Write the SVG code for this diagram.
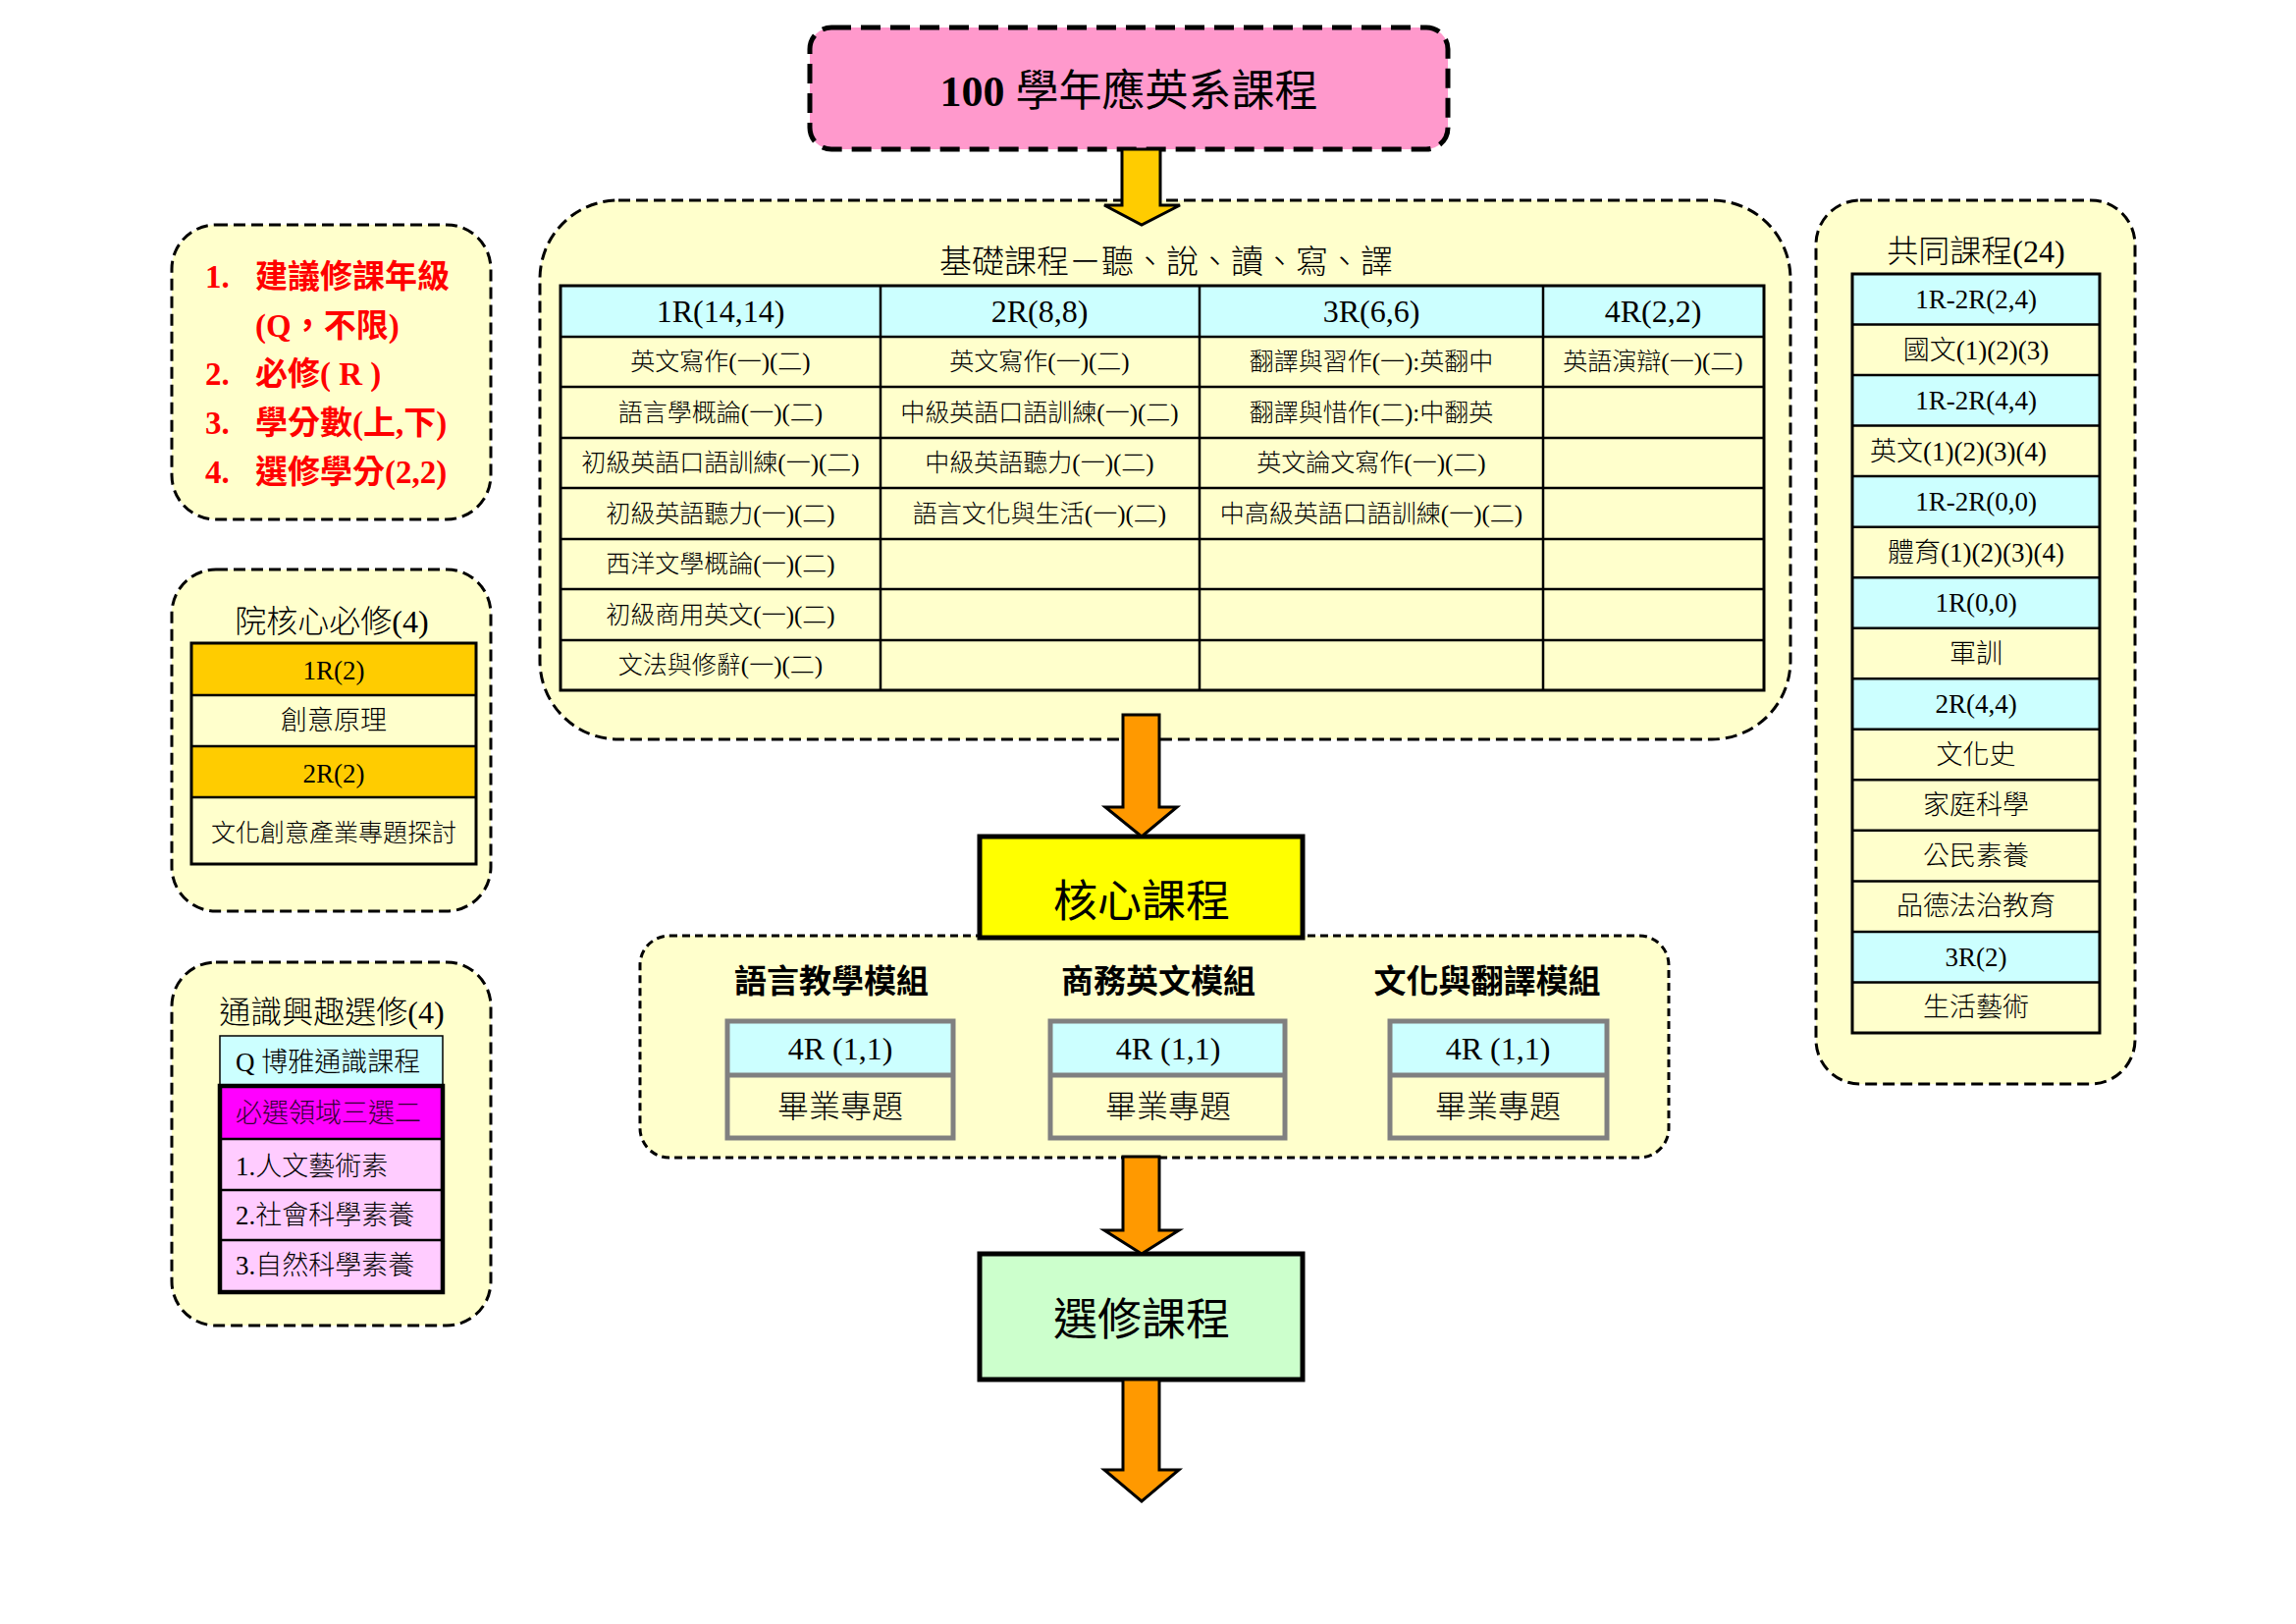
<svg xmlns="http://www.w3.org/2000/svg" width="2339" height="1654" viewBox="0 0 2339 1654">
<style>
text { font-family: "Liberation Serif", "Noto Sans CJK TC", serif; fill: #000; font-weight: 300; }
.c { text-anchor: middle; }
.dash { fill: #FFFFCC; stroke: #000; stroke-width: 3; stroke-dasharray: 12 6; }
.grid { stroke: #000; stroke-width: 2.5; fill: none; }
.frame { stroke: #000; stroke-width: 3; fill: none; }
.cyan { fill: #CCFFFF; }
.pale { fill: #FFFFCC; }
.orange { fill: #FFCC00; }
.red { fill: #FF0000; font-weight: bold; font-size: 33px; }
.cell { font-size: 25px; }
.head { font-size: 32px; }
.rt { font-size: 27px; }
.arrowY { fill: #FFCC00; stroke: #000; stroke-width: 3; }
.arrowO { fill: #FF9900; stroke: #000; stroke-width: 3; }
.mod { stroke: #808080; stroke-width: 5; }
</style>
<rect width="2339" height="1654" fill="#FFFFFF"/>

<g id="title">
<rect x="825" y="28" width="650" height="124" rx="22" fill="#FF99CC" stroke="#000" stroke-width="5" stroke-dasharray="20 10"/>
<text x="1150" y="108" class="c" font-size="44" style="font-weight:normal"><tspan font-weight="bold" style="font-weight:bold">100</tspan> 學年應英系課程</text>
</g>

<g id="legend">
<rect x="175" y="229" width="325" height="300" rx="45" class="dash" stroke-dasharray="11 6"/>
<text x="209" y="293" class="red">1.</text><text x="260" y="293" class="red">建議修課年級</text>
<text x="260" y="343" class="red">(Q，不限)</text>
<text x="209" y="392" class="red">2.</text><text x="260" y="392" class="red">必修( R )</text>
<text x="209" y="442" class="red">3.</text><text x="260" y="442" class="red">學分數(上,下)</text>
<text x="209" y="492" class="red">4.</text><text x="260" y="492" class="red">選修學分(2,2)</text>
</g>

<g id="college-core">
<rect x="175" y="580" width="325" height="348" rx="45" class="dash" stroke-dasharray="11 6"/>
<text x="338" y="644" class="c" font-size="32">院核心必修(4)</text>
<rect x="195" y="655" width="290" height="53" class="orange"/>
<rect x="195" y="708" width="290" height="52" class="pale"/>
<rect x="195" y="760" width="290" height="52" class="orange"/>
<rect x="195" y="812" width="290" height="68" class="pale"/>
<path d="M195 708H485M195 760H485M195 812H485" class="grid"/>
<rect x="195" y="655" width="290" height="225" class="frame"/>
<text x="340" y="692" class="c" font-size="27">1R(2)</text>
<text x="340" y="743" class="c" font-size="27">創意原理</text>
<text x="340" y="797" class="c" font-size="27">2R(2)</text>
<text x="340" y="857" class="c" font-size="25">文化創意產業專題探討</text>
</g>

<g id="general-electives">
<rect x="175" y="980" width="325" height="370" rx="45" class="dash" stroke-dasharray="11 6"/>
<text x="338" y="1042" class="c" font-size="32">通識興趣選修(4)</text>
<rect x="224" y="1055" width="227" height="51" class="cyan" stroke="#000" stroke-width="1.5"/>
<rect x="224" y="1106" width="227" height="54" fill="#FF00FF"/>
<rect x="224" y="1160" width="227" height="156" fill="#FFCCFF"/>
<path d="M224 1160H451M224 1212H451M224 1263H451" class="grid"/>
<rect x="224" y="1106" width="227" height="210" fill="none" stroke="#000" stroke-width="4.5"/>
<text x="240" y="1091" font-size="27">Q 博雅通識課程</text>
<text x="240" y="1143" font-size="27" style="fill:#330033">必選領域三選二</text>
<text x="240" y="1197" font-size="27">1.人文藝術素</text>
<text x="240" y="1247" font-size="27">2.社會科學素養</text>
<text x="240" y="1298" font-size="27">3.自然科學素養</text>
</g>

<g id="foundation">
<rect x="550" y="204" width="1274" height="549" rx="80" class="dash" stroke-dasharray="13 6"/>
<text x="1188" y="278" class="c" font-size="33">基礎課程－聽、說、讀、寫、譯</text>
<rect x="571" y="291" width="1226" height="52" class="cyan"/>
<path d="M571 343H1797M571 394H1797M571 446H1797M571 497H1797M571 549H1797M571 600H1797M571 652H1797M897 291V703M1222 291V703M1572 291V703" class="grid"/>
<rect x="571" y="291" width="1226" height="412" class="frame"/>
<text x="734" y="328" class="c head">1R(14,14)</text>
<text x="1059" y="328" class="c head">2R(8,8)</text>
<text x="1397" y="328" class="c head">3R(6,6)</text>
<text x="1684" y="328" class="c head">4R(2,2)</text>
<text x="734" y="377" class="c cell">英文寫作(一)(二)</text>
<text x="734" y="429" class="c cell">語言學概論(一)(二)</text>
<text x="734" y="480" class="c cell">初級英語口語訓練(一)(二)</text>
<text x="734" y="532" class="c cell">初級英語聽力(一)(二)</text>
<text x="734" y="583" class="c cell">西洋文學概論(一)(二)</text>
<text x="734" y="635" class="c cell">初級商用英文(一)(二)</text>
<text x="734" y="686" class="c cell">文法與修辭(一)(二)</text>
<text x="1059" y="377" class="c cell">英文寫作(一)(二)</text>
<text x="1059" y="429" class="c cell">中級英語口語訓練(一)(二)</text>
<text x="1059" y="480" class="c cell">中級英語聽力(一)(二)</text>
<text x="1059" y="532" class="c cell">語言文化與生活(一)(二)</text>
<text x="1397" y="377" class="c cell">翻譯與習作(一):英翻中</text>
<text x="1397" y="429" class="c cell">翻譯與惜作(二):中翻英</text>
<text x="1397" y="480" class="c cell">英文論文寫作(一)(二)</text>
<text x="1397" y="532" class="c cell">中高級英語口語訓練(一)(二)</text>
<text x="1684" y="377" class="c cell">英語演辯(一)(二)</text>
</g>

<g id="common">
<rect x="1850" y="204" width="325" height="900" rx="45" class="dash" stroke-dasharray="9 5"/>
<text x="2013" y="267" class="c" font-size="32">共同課程(24)</text>
<rect x="1887" y="279" width="252" height="773" class="pale"/>
<rect x="1887" y="279" width="252" height="51.5" class="cyan"/>
<rect x="1887" y="382.1" width="252" height="51.5" class="cyan"/>
<rect x="1887" y="485.1" width="252" height="51.6" class="cyan"/>
<rect x="1887" y="588.2" width="252" height="51.5" class="cyan"/>
<rect x="1887" y="691.2" width="252" height="51.6" class="cyan"/>
<rect x="1887" y="948.9" width="252" height="51.5" class="cyan"/>
<path d="M1887 330.5H2139M1887 382.1H2139M1887 433.6H2139M1887 485.1H2139M1887 536.7H2139M1887 588.2H2139M1887 639.7H2139M1887 691.2H2139M1887 742.8H2139M1887 794.3H2139M1887 845.8H2139M1887 897.4H2139M1887 948.9H2139M1887 1000.4H2139" class="grid" stroke-width="2"/>
<rect x="1887" y="279" width="252" height="773" class="frame"/>
<text x="2013" y="314" class="c rt">1R-2R(2,4)</text>
<text x="2013" y="365.5" class="c rt">國文(1)(2)(3)</text>
<text x="2013" y="417" class="c rt">1R-2R(4,4)</text>
<text x="1995" y="468.6" class="c rt">英文(1)(2)(3)(4)</text>
<text x="2013" y="520" class="c rt">1R-2R(0,0)</text>
<text x="2013" y="571.7" class="c rt">體育(1)(2)(3)(4)</text>
<text x="2013" y="623" class="c rt">1R(0,0)</text>
<text x="2013" y="674.7" class="c rt">軍訓</text>
<text x="2013" y="726" class="c rt">2R(4,4)</text>
<text x="2013" y="777.8" class="c rt">文化史</text>
<text x="2013" y="829.3" class="c rt">家庭科學</text>
<text x="2013" y="880.8" class="c rt">公民素養</text>
<text x="2013" y="932.4" class="c rt">品德法治教育</text>
<text x="2013" y="983.9" class="c rt">3R(2)</text>
<text x="2013" y="1035.4" class="c rt">生活藝術</text>
</g>

<g id="modules">
<rect x="652" y="953" width="1048" height="226" rx="30" fill="#FFFFCC" stroke="#000" stroke-width="3" stroke-dasharray="8 5"/>
<text x="847" y="1011" class="c" font-size="33" style="font-weight:bold">語言教學模組</text>
<text x="1180" y="1011" class="c" font-size="33" style="font-weight:bold">商務英文模組</text>
<text x="1515" y="1011" class="c" font-size="33" style="font-weight:bold">文化與翻譯模組</text>
<g id="module-1">
<rect x="741" y="1040" width="230" height="55" class="cyan"/>
<rect x="741" y="1095" width="230" height="64" class="pale"/>
<path d="M741 1095H971" class="mod"/>
<rect x="741" y="1040" width="230" height="119" fill="none" class="mod"/>
<text x="856" y="1079" class="c" font-size="32">4R (1,1)</text>
<text x="856" y="1138" class="c" font-size="32">畢業專題</text>
</g>
<g id="module-2">
<rect x="1070" y="1040" width="239" height="55" class="cyan"/>
<rect x="1070" y="1095" width="239" height="64" class="pale"/>
<path d="M1070 1095H1309" class="mod"/>
<rect x="1070" y="1040" width="239" height="119" fill="none" class="mod"/>
<text x="1190" y="1079" class="c" font-size="32">4R (1,1)</text>
<text x="1190" y="1138" class="c" font-size="32">畢業專題</text>
</g>
<g id="module-3">
<rect x="1416" y="1040" width="221" height="55" class="cyan"/>
<rect x="1416" y="1095" width="221" height="64" class="pale"/>
<path d="M1416 1095H1637" class="mod"/>
<rect x="1416" y="1040" width="221" height="119" fill="none" class="mod"/>
<text x="1526" y="1079" class="c" font-size="32">4R (1,1)</text>
<text x="1526" y="1138" class="c" font-size="32">畢業專題</text>
</g>
</g>

<g id="core">
<rect x="998" y="852" width="329" height="103" fill="#FFFF00" stroke="#000" stroke-width="5"/>
<text x="1163" y="934" class="c" font-size="45" style="font-weight:normal">核心課程</text>
</g>

<g id="elective">
<rect x="998" y="1277" width="329" height="128" fill="#CCFFCC" stroke="#000" stroke-width="5"/>
<text x="1163" y="1360" class="c" font-size="45" style="font-weight:normal">選修課程</text>
</g>

<g id="connectors">
<polygon class="arrowY" points="1143,152 1182,152 1182,209 1202,209 1163,229 1125,209 1143,209"/>
<polygon class="arrowO" points="1144,728 1181,728 1181,822 1199,822 1163,852 1126,822 1144,822"/>
<polygon class="arrowO" points="1144,1178 1181,1178 1181,1253 1201,1253 1163,1277 1125,1253 1144,1253"/>
<polygon class="arrowO" points="1144,1405 1181,1405 1181,1497 1201,1497 1163,1529 1125,1497 1144,1497"/>
</g>
</svg>
